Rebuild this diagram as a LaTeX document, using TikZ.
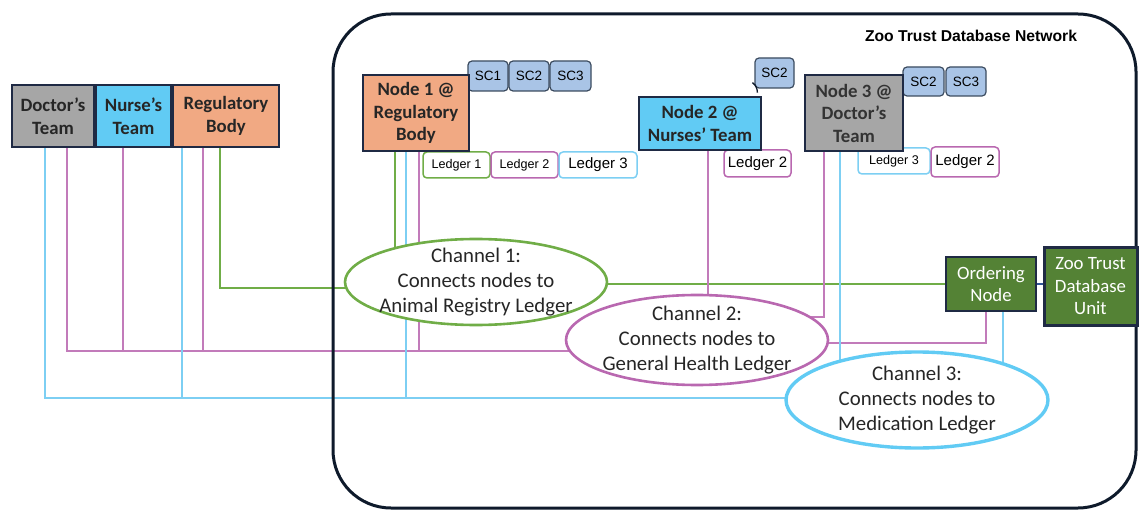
\documentclass[tikz,border=0pt]{standalone}
\usepackage{fontspec}
\setmainfont{Carlito}
\newfontfamily\arialf{Liberation Sans}
\usetikzlibrary{shapes.geometric}
\pgfdeclarelayer{bg}
\pgfsetlayers{bg,main}

\definecolor{navy}{HTML}{1F2A44}
\definecolor{framec}{HTML}{0E1A2B}
\definecolor{txt}{HTML}{262626}
\definecolor{grayfill}{HTML}{A6A6A6}
\definecolor{bluefill}{HTML}{61CBF4}
\definecolor{salmon}{HTML}{F1A983}
\definecolor{scfill}{HTML}{A9C4E6}
\definecolor{scedge}{HTML}{3B4B5F}
\definecolor{darkgreen}{HTML}{548235}
\definecolor{chgreen}{HTML}{70AD47}
\definecolor{chpurple}{HTML}{B968B0}
\definecolor{chblue}{HTML}{61CBF4}
\definecolor{lnpurple}{HTML}{C27BBA}
\definecolor{lnblue}{HTML}{7DCFF3}
\definecolor{linkblue}{HTML}{2F5597}

\tikzset{
  team/.style={draw=navy, line width=2pt, text=txt, align=center, inner sep=0pt,
    font=\fontsize{18.8}{22.5}\selectfont\bfseries},
  scbox/.style={draw=scedge, fill=scfill, line width=1.2pt, rounded corners=4pt,
    minimum width=40pt, minimum height=30pt, inner sep=0pt,
    font=\arialf\fontsize{13.5}{15}\selectfont},
  ledger/.style={fill=white, line width=1.5pt, rounded corners=4pt, inner sep=0pt,
    minimum height=26pt, font=\arialf\fontsize{12.6}{14}\selectfont},
  bigledger/.style={ledger, font=\arialf\fontsize{15}{17}\selectfont},
  channel/.style={ellipse, fill=white, inner xsep=-15pt, inner ysep=-18pt,
    minimum width=262pt, text=txt, align=center, font=\fontsize{20.8}{25}\selectfont},
  gline/.style={chgreen, line width=1.8pt},
  pline/.style={lnpurple, line width=1.8pt},
  bline/.style={lnblue, line width=1.8pt},
}

\begin{document}
\begin{tikzpicture}[x=1pt,y=-1pt]
\useasboundingbox (0,0) rectangle (1139,510);

% network boundary
\draw[framec, line width=3pt, rounded corners=58pt] (333,14) rectangle (1136,508);
\node[font=\arialf\fontsize{15.7}{18}\selectfont\bfseries, text=black] (title) at (971,36) {Zoo Trust Database Network};

% smart contracts
\node[scbox] (n1sc1) at (488,76) {SC1};
\node[scbox] (n1sc2) at (529,76) {SC2};
\node[scbox, minimum width=41pt] (n1sc3) at (570.5,76) {SC3};
\node[scbox, minimum width=39pt] (n2sc2) at (774.5,73) {SC2};
\draw[framec, line width=1.3pt] (n2sc2.south west) ++(-2pt,6pt) to[bend left=25] ++(5pt,-10pt);
\node[scbox, minimum width=41pt, minimum height=29pt] (n3sc2) at (923.5,81.5) {SC2};
\node[scbox, minimum height=29pt] (n3sc3) at (966,81.5) {SC3};

% ledgers
\node[ledger, draw=chgreen, minimum width=67pt] (n1l1) at (456.5,165) {Ledger 1};
\node[ledger, draw=chpurple, minimum width=67pt] (n1l2) at (524.5,165) {Ledger 2};
\node[bigledger, draw=lnblue, minimum width=78pt] (n1l3) at (598,165) {Ledger 3};
\node[bigledger, draw=chpurple, minimum width=67pt, minimum height=27pt] (n2l2) at (757.5,163.5) {Ledger 2};
\node[ledger, draw=lnblue, minimum width=72pt] (n3l3) at (894,161) {Ledger 3};
\node[bigledger, draw=chpurple, minimum width=68pt, minimum height=30pt] (n3l2) at (965,162) {Ledger 2};

% organisations outside the network
\node[team, fill=grayfill, minimum width=82pt, minimum height=62pt] (doc) at (53,116) {Doctor’s\\Team};
\node[team, fill=bluefill, minimum width=75pt, minimum height=62pt] (nurse) at (133.5,116) {Nurse’s\\Team};
\node[team, fill=salmon, minimum width=106pt, minimum height=62pt] (reg) at (226,116) {Regulatory\\Body};

% peer nodes
\node[team, fill=salmon, minimum width=106pt, minimum height=76pt] (n1) at (416,113) {Node 1 @\\Regulatory\\Body};
\node[team, fill=bluefill, minimum width=122pt, minimum height=53pt] (n2) at (700,123.5) {Node 2 @\\Nurses’ Team};
\node[team, fill=grayfill, text=black!80, minimum width=98pt, minimum height=76pt] (n3) at (854,113) {Node 3 @\\Doctor’s\\Team};

% ordering service
\node[team, fill=darkgreen, text=white, font=\fontsize{18.8}{22.5}\selectfont,
  minimum width=90pt, minimum height=54pt] (ord) at (991,284) {Ordering\\Node};
\node[team, fill=darkgreen, text=white, line width=3pt, font=\fontsize{18.8}{22.5}\selectfont,
  minimum width=93pt, minimum height=77pt] (db) at (1090.5,286.5) {Zoo Trust\\Database\\Unit};

% channels
\node[channel, draw=chgreen, line width=2.6pt, minimum height=86pt] (ch1) at (476,282)
  {Channel 1:\\Connects nodes to\\Animal Registry Ledger};
\node[channel, draw=chpurple, line width=2.6pt, minimum height=90pt] (ch2) at (697,340)
  {Channel 2:\\Connects nodes to\\General Health Ledger};
\node[channel, draw=chblue, line width=3.4pt, minimum height=96pt] (ch3) at (917,400)
  {Channel 3:\\Connects nodes to\\Medication Ledger};

\coordinate (pbus) at (0,351);
\coordinate (bbus) at (0,398);

\begin{pgfonlayer}{bg}
  % channel 1 (green)
  \draw[gline] ([xshift=-6pt]reg.south) |- ([yshift=-6pt]ch1.center);
  \draw[gline] ([xshift=-21pt]n1.south) -- ([xshift=-21pt]n1.south |- ch1.center);
  \draw[gline] (ch1.center |- ord.west) -- (ord.west);
  % channel 2 (purple)
  \draw[pline] ([xshift=14pt]doc.south) |- (ch2.center |- pbus);
  \draw[pline] ([xshift=-10.5pt]nurse.south) -- ([xshift=-10.5pt]nurse.south |- pbus);
  \draw[pline] ([xshift=-23pt]reg.south) -- ([xshift=-23pt]reg.south |- pbus);
  \draw[pline] ([xshift=3pt]n1.south) -- ([xshift=3pt]n1.south |- pbus);
  \draw[pline] ([xshift=8pt]n2.south) -- ([xshift=8pt]n2.south |- ch2.center);
  \draw[pline] ([xshift=-30pt]n3.south) |- ([yshift=23pt]ch2.center);
  \draw[pline] ([xshift=-5pt]ord.south) |- ([yshift=-3pt]ch2.center);
  % channel 3 (blue)
  \draw[bline] ([xshift=-8pt]doc.south) |- (ch3.center |- bbus);
  \draw[bline] ([xshift=-44pt]reg.south) -- ([xshift=-44pt]reg.south |- bbus);
  \draw[bline] ([xshift=-10pt]n1.south) -- ([xshift=-10pt]n1.south |- bbus);
  \draw[bline] ([xshift=-14pt]n3.south) -- ([xshift=-14pt]n3.south |- ch3.center);
  \draw[bline] ([xshift=12pt]ord.south) -- ([xshift=12pt]ord.south |- ch3.center);
  % ordering node to database unit
  \draw[linkblue, line width=1.8pt] (ord.east) -- (ord.east -| db.west);
\end{pgfonlayer}
\end{tikzpicture}
\end{document}
